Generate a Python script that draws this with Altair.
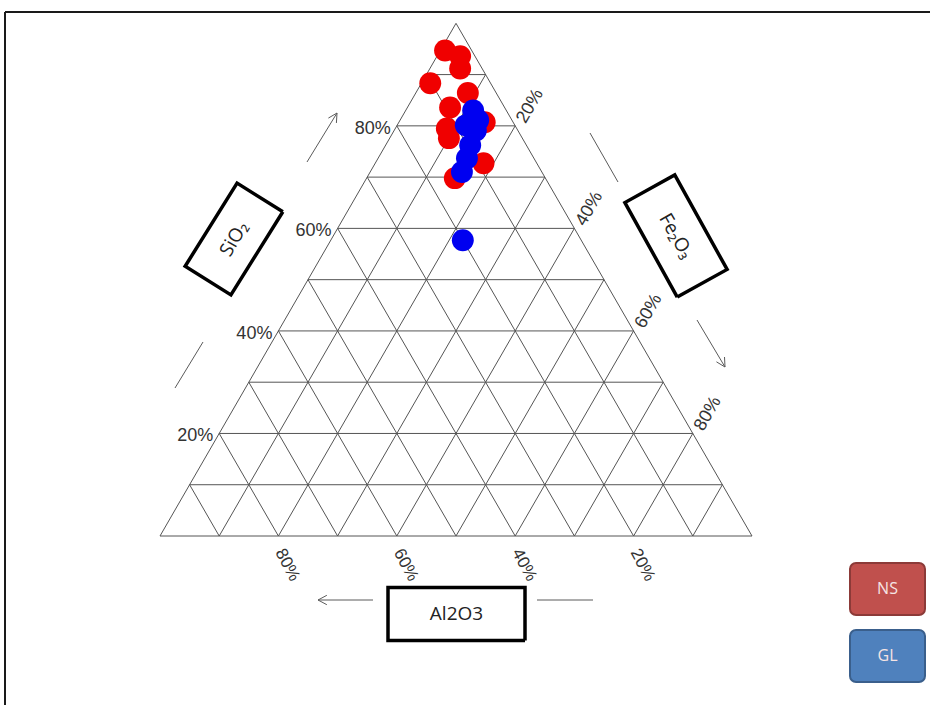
import math
import altair as alt
import pandas as pd

# ---- sample compositions (wt %) ----
ns_sio2 = [94.7, 93.6, 91.2, 88.3, 86.4, 83.6, 80.7, 79.5, 77.6, 72.7, 69.8]
ns_al2o3 = [4.5, 2.5, 3.7, 10.2, 4.8, 9.2, 4.8, 11.8, 12.4, 9.0, 15.3]
ns_fe2o3 = [0.8, 3.9, 5.1, 1.5, 8.8, 7.2, 14.5, 8.7, 10.0, 18.3, 14.9]

gl_sio2 = [83.0, 81.1, 80.1, 79.1, 76.2, 73.7, 71.0, 57.7]
gl_al2o3 = [5.6, 5.7, 8.3, 7.1, 9.5, 11.3, 13.5, 20.0]
gl_fe2o3 = [11.4, 13.2, 11.6, 13.8, 14.3, 15.0, 15.5, 22.3]

# ---- axis ticks (%) ----
sio2_ticks = [20, 40, 60, 80]
al2o3_ticks = [80, 60, 40, 20]
fe2o3_ticks = [20, 40, 60, 80]
grid_levels = [k / 10 for k in range(10)]

groups = ["NS", "GL"]
group_fill = ["#c0504d", "#4f81bd"]
group_edge = ["#8c3a38", "#3a5f8c"]
point_color = ["#f00000", "#0000f0"]

W, H_PX = 930, 705
X0, Y0, U = 160.0, 536.0, 592.0   # canvas position of the Al2O3 corner, pixels per unit side
H = math.sqrt(3) / 2


def px(xp, yp):
    """Canvas pixel -> ternary plane units."""
    return (xp - X0) / U, (Y0 - yp) / U


def tern(s, a, f):
    tot = s + a + f
    s, f = s / tot, f / tot
    return f + s / 2, s * H


xs = alt.Scale(domain=[px(0, 0)[0], px(W, 0)[0]], nice=False, zero=False)
ys = alt.Scale(domain=[px(0, H_PX)[1], px(0, 0)[1]], nice=False, zero=False)


def X(f="x"):
    return alt.X(f"{f}:Q", scale=xs, axis=None)


def Y(f="y"):
    return alt.Y(f"{f}:Q", scale=ys, axis=None)


# ---- triangular grid ----
grid_rows = []
for v in grid_levels:
    grid_rows.append(dict(x=v / 2, y=v * H, x2=1 - v / 2, y2=v * H))          # SiO2 constant
    grid_rows.append(dict(x=1 - v, y=0, x2=(1 - v) / 2, y2=(1 - v) * H))      # Al2O3 constant
    grid_rows.append(dict(x=v, y=0, x2=(1 + v) / 2, y2=(1 - v) * H))          # Fe2O3 constant
grid = alt.Chart(pd.DataFrame(grid_rows)).mark_rule(color="#555555", strokeWidth=1).encode(
    x=X(), y=Y(), x2="x2:Q", y2="y2:Q")

# ---- outer frame ----
frame_rows = []
for (a, b) in [((5, 12), (W, 12)), ((5, 12), (5, H_PX))]:
    p, q = px(*a), px(*b)
    frame_rows.append(dict(x=p[0], y=p[1], x2=q[0], y2=q[1]))
frame = alt.Chart(pd.DataFrame(frame_rows)).mark_rule(color="#1a1a1a", strokeWidth=2).encode(
    x=X(), y=Y(), x2="x2:Q", y2="y2:Q")

# ---- direction arrows beside each side ----
arrows = [
    ((307, 162), (337, 113), True),
    ((175, 388), (203, 342), False),
    ((590, 133), (618, 182), False),
    ((697, 320), (725, 367), True),
    ((373, 600), (318, 600), True),
    ((537, 600), (593, 600), False),
]
arrow_rows = []
for tail, tip, head in arrows:
    p, q = px(*tail), px(*tip)
    arrow_rows.append(dict(x=p[0], y=p[1], x2=q[0], y2=q[1]))
    if head:
        dx, dy = tip[0] - tail[0], tip[1] - tail[1]
        n = math.hypot(dx, dy)
        ux, uy = dx / n, dy / n
        for sgn in (1, -1):
            t = math.radians(28) * sgn
            bx = ux * math.cos(t) - uy * math.sin(t)
            by = ux * math.sin(t) + uy * math.cos(t)
            e = px(tip[0] - 10 * bx, tip[1] - 10 * by)
            arrow_rows.append(dict(x=q[0], y=q[1], x2=e[0], y2=e[1]))
arrow_layer = alt.Chart(pd.DataFrame(arrow_rows)).mark_rule(color="#5a5a5a", strokeWidth=1).encode(
    x=X(), y=Y(), x2="x2:Q", y2="y2:Q")

# ---- component name boxes ----
boxes = [
    ("SiO₂", (234, 239), 98, 54, -58, 300),
    ("Fe₂O₃", (676, 236), 108, 57, 61, 60),
    ("Al2O3", (456.5, 614), 137, 53, 0, 0),
]
box_rows, box_text_rows = [], []
for name, (cx, cy), L, Wd, th, ang in boxes:
    t = math.radians(th)
    u = (math.cos(t), math.sin(t))
    v = (-math.sin(t), math.cos(t))
    corners = [(1, 1), (1, -1), (-1, -1), (-1, 1), (1, 1)]
    for i, (a, b) in enumerate(corners):
        cxp = cx + a * L / 2 * u[0] + b * Wd / 2 * v[0]
        cyp = cy + a * L / 2 * u[1] + b * Wd / 2 * v[1]
        p = px(cxp, cyp)
        box_rows.append(dict(box=name, i=i, x=p[0], y=p[1]))
    p = px(cx, cy)
    box_text_rows.append(dict(label=name, x=p[0], y=p[1], ang=ang))

box_layer = alt.Chart(pd.DataFrame(box_rows)).mark_line(
    color="#000000", strokeWidth=3.5, strokeJoin="miter").encode(
    x=X(), y=Y(), order="i:Q", detail="box:N")
box_text = alt.Chart(pd.DataFrame(box_text_rows)).mark_text(
    font="Open Sans", fontSize=19, color="#222222", align="center", baseline="middle").encode(
    x=X(), y=Y(), text="label:N", angle=alt.Angle("ang:Q", scale=None))

# ---- tick labels ----
lab_font = dict(font="Liberation Sans", fontSize=18, color="#333333")

s_rows = []
for s in sio2_ticks:
    v = s / 100
    e = (X0 + v / 2 * U, Y0 - v * H * U)
    p = px(e[0] - 6, e[1] + 3)
    s_rows.append(dict(x=p[0], y=p[1], label=f"{s}%"))
s_labels = alt.Chart(pd.DataFrame(s_rows)).mark_text(
    align="right", baseline="middle", **lab_font).encode(x=X(), y=Y(), text="label:N")

a_rows = []
for a in al2o3_ticks:
    v = a / 100
    p = px(X0 + (1 - v) * U + 1, Y0 + 14)
    a_rows.append(dict(x=p[0], y=p[1], label=f"{a}%"))
a_labels = alt.Chart(pd.DataFrame(a_rows)).mark_text(
    align="left", baseline="middle", angle=62, font="Liberation Sans", fontSize=17,
    color="#333333").encode(x=X(), y=Y(), text="label:N")

f_rows = []
for f in fe2o3_ticks:
    v = f / 100
    e = (X0 + (1 + v) / 2 * U, Y0 - (1 - v) * H * U)
    p = px(e[0] + 6, e[1] - 4)
    f_rows.append(dict(x=p[0], y=p[1], label=f"{f}%"))
f_labels = alt.Chart(pd.DataFrame(f_rows)).mark_text(
    align="left", baseline="middle", angle=300, **lab_font).encode(x=X(), y=Y(), text="label:N")

# ---- sample points ----
pt_rows = []
for g, (ss, aa, ff) in zip(groups, [(ns_sio2, ns_al2o3, ns_fe2o3), (gl_sio2, gl_al2o3, gl_fe2o3)]):
    for s, a, f in zip(ss, aa, ff):
        x, y = tern(s, a, f)
        pt_rows.append(dict(group=g, x=x, y=y, SiO2=s, Al2O3=a, Fe2O3=f))
pts = pd.DataFrame(pt_rows)
pts["ord"] = pts["group"].map({g: i for i, g in enumerate(groups)})
points = alt.Chart(pts).mark_circle(size=480, opacity=1).encode(
    x=X(), y=Y(),
    color=alt.Color("group:N", scale=alt.Scale(domain=groups, range=point_color), legend=None),
    order="ord:Q",
    tooltip=["group:N", "SiO2:Q", "Al2O3:Q", "Fe2O3:Q"])

# ---- group key ----
key_rows = []
tops = [563, 630]
for g, top, fill, edge in zip(groups, tops, group_fill, group_edge):
    p, q = px(850, top), px(925, top + 52)
    c = px(887.5, top + 26)
    key_rows.append(dict(group=g, x=p[0], y=p[1], x2=q[0], y2=q[1], cx=c[0], cy=c[1]))
keys = pd.DataFrame(key_rows)
key_rect = alt.Chart(keys).mark_rect(cornerRadius=6, strokeWidth=2).encode(
    x=X(), y=Y(), x2="x2:Q", y2="y2:Q",
    fill=alt.Fill("group:N", scale=alt.Scale(domain=groups, range=group_fill), legend=None),
    stroke=alt.Stroke("group:N", scale=alt.Scale(domain=groups, range=group_edge), legend=None))
key_text = alt.Chart(keys).mark_text(
    font="Open Sans", fontSize=16, color="#f6e4e4", align="center", baseline="middle").encode(
    x=X("cx"), y=Y("cy"), text="group:N")

chart = alt.layer(
    frame, grid, arrow_layer, box_layer, box_text, s_labels, a_labels, f_labels,
    points, key_rect, key_text
).properties(
    width=W, height=H_PX, padding=0,
    autosize=alt.AutoSizeParams(type="none"),
    background="white",
).configure_view(stroke="transparent")

chart.save("out.html", embed_options={"renderer": "svg", "actions": False})
